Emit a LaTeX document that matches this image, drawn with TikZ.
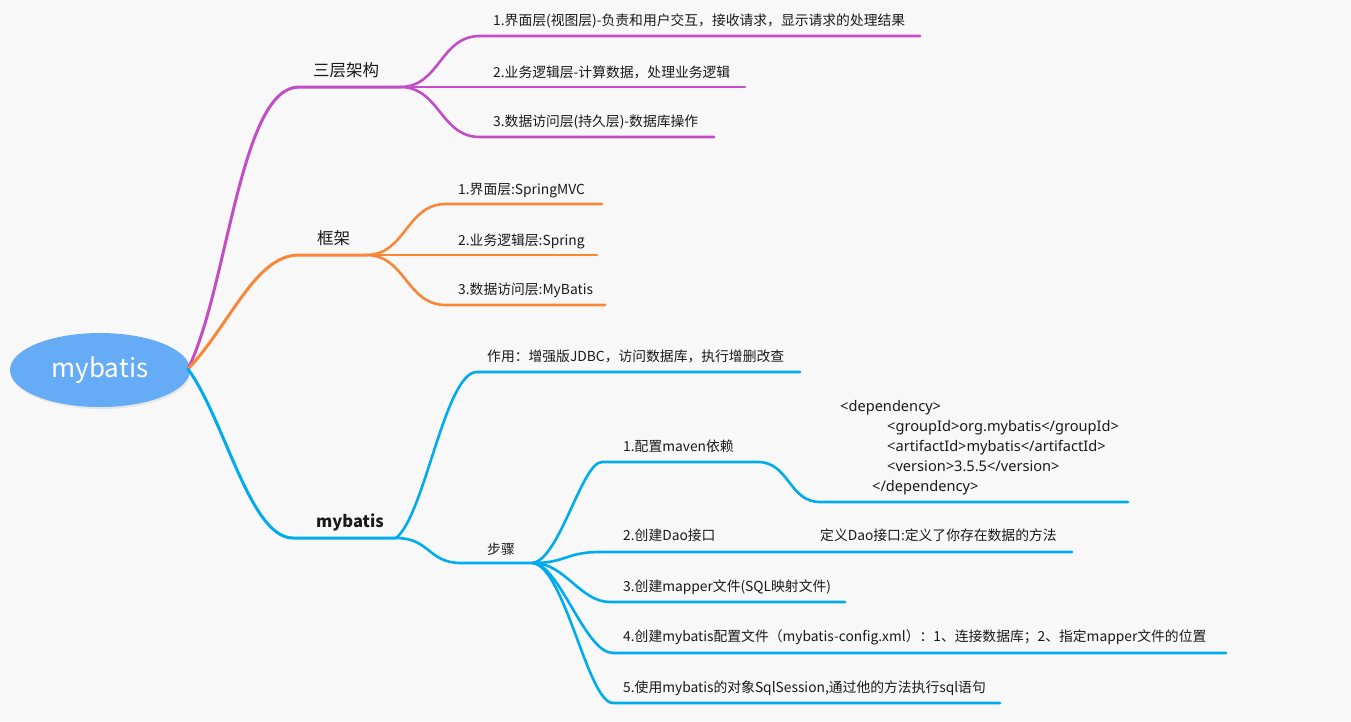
\documentclass[tikz,border=0pt]{standalone}
\usepackage{fontspec}
\usetikzlibrary{shapes.geometric}
\setmainfont{Noto Sans CJK SC}
\newfontfamily\latinf{Noto Sans}
\definecolor{bgc}{RGB}{248,248,248}
\definecolor{purp}{RGB}{194,78,199}
\definecolor{oran}{RGB}{248,135,55}
\definecolor{blu}{RGB}{0,172,238}
\definecolor{rootc}{RGB}{102,171,246}
\definecolor{txt}{RGB}{26,26,26}
\begin{document}
\begin{tikzpicture}[x=1pt,y=-1pt,
  lbl/.style={anchor=west, inner sep=0pt, text=txt, font=\fontsize{13.8}{16}\selectfont, text height=11pt, text depth=3pt},
  xmllbl/.style={lbl, font=\latinf\fontsize{14.6}{16}\selectfont},
  toplbl/.style={anchor=west, inner sep=0pt, text=txt, font=\fontsize{16.5}{19}\selectfont, text height=13pt, text depth=3.5pt},
  br/.style={line width=2.6pt, line cap=round},
  mainbr/.style={line width=3pt, line cap=round},
  pbr/.style={br, draw=purp},
  obr/.style={br, draw=oran},
  bbr/.style={br, draw=blu}]
\fill[bgc] (0,0) rectangle (1351,721);
\useasboundingbox (0,0) rectangle (1351,721);

% root
\fill[black!10] (101,372) ellipse [x radius=90pt, y radius=37pt];
\node[ellipse, fill=rootc, minimum width=180pt, minimum height=74pt, inner sep=0pt,
      text=white, font=\fontsize{26}{30}\selectfont] (root) at (100,370) {mybatis};
\coordinate (r0) at (188,369);

% ---------- purple: 三层架构
\node[toplbl] (t1) at (313,72) {三层架构};
\coordinate (p0) at (299,87);
\coordinate (ps) at (400,87);
\coordinate (pa1) at (480,36);  \coordinate (pa1e) at (920,36);
\coordinate (pa2e) at (745,87);
\coordinate (pa3) at (480,137); \coordinate (pa3e) at (714,137);
\draw[mainbr, purp] (r0) .. controls (228,288) and (240,87) .. (p0) -- (ps);
\draw[pbr] (ps) .. controls (440,87) and (440,36) .. (pa1) -- (pa1e);
\draw[pbr] (ps) -- (pa2e);
\draw[pbr] (ps) .. controls (440,87) and (440,137) .. (pa3) -- (pa3e);
\node[lbl] (a1) at (493,21) {1.界面层(视图层)-负责和用户交互，接收请求，显示请求的处理结果};
\node[lbl] (a2) at (493,73) {2.业务逻辑层-计算数据，处理业务逻辑};
\node[lbl] (a3) at (493,122) {3.数据访问层(持久层)-数据库操作};

% ---------- orange: 框架
\node[toplbl] (t2) at (317,240) {框架};
\coordinate (o0) at (299,255);
\coordinate (os) at (366,255);
\coordinate (ob1) at (446,204); \coordinate (ob1e) at (602,204);
\coordinate (ob2e) at (597,255);
\coordinate (ob3) at (446,305); \coordinate (ob3e) at (605,305);
\draw[mainbr, oran] (r0) .. controls (230,325) and (255,255) .. (o0) -- (os);
\draw[obr] (os) .. controls (406,255) and (406,204) .. (ob1) -- (ob1e);
\draw[obr] (os) -- (ob2e);
\draw[obr] (os) .. controls (406,255) and (406,305) .. (ob3) -- (ob3e);
\node[lbl] (b1) at (458,190) {1.界面层:SpringMVC};
\node[lbl] (b2) at (458,241) {2.业务逻辑层:Spring};
\node[lbl] (b3) at (458,290) {3.数据访问层:MyBatis};

% ---------- blue: mybatis
\node[toplbl, font=\bfseries\fontsize{16.5}{19}\selectfont] (t3) at (316,523) {mybatis};
\coordinate (m0) at (293,538);
\coordinate (ms) at (396,538);
\draw[mainbr, blu] (r0) .. controls (225,420) and (250,538) .. (m0) -- (ms);
\coordinate (c1s) at (477,372); \coordinate (c1e) at (800,372);
\coordinate (c2s) at (461,563); \coordinate (c2e) at (533,563);
\draw[bbr] (ms) .. controls (425,515) and (445,372) .. (c1s) -- (c1e);
\draw[bbr] (ms) .. controls (430,538) and (428,563) .. (c2s) -- (c2e);
\node[lbl] (c1) at (487,357) {作用：增强版JDBC，访问数据库，执行增删改查};
\node[lbl] (c2) at (487,550) {步骤};

% steps
\coordinate (d1s) at (602,462); \coordinate (d1m) at (758,462);
\coordinate (d1n) at (820,502); \coordinate (d1e) at (1128,502);
\coordinate (d2s) at (600,552); \coordinate (d2e) at (1072,552);
\coordinate (d3s) at (610,602); \coordinate (d3e) at (845,602);
\coordinate (d4s) at (613,653); \coordinate (d4e) at (1226,653);
\coordinate (d5s) at (613,703); \coordinate (d5e) at (1000,703);
\draw[bbr] (c2e) .. controls (560,558) and (582,462) .. (d1s) -- (d1m)
           .. controls (789,462) and (789,502) .. (d1n) -- (d1e);
\draw[bbr] (c2e) .. controls (566,563) and (566,552) .. (d2s) -- (d2e);
\draw[bbr] (c2e) .. controls (565,563) and (580,602) .. (d3s) -- (d3e);
\draw[bbr] (c2e) .. controls (560,565) and (585,653) .. (d4s) -- (d4e);
\draw[bbr] (c2e) .. controls (565,568) and (588,703) .. (d5s) -- (d5e);

\node[lbl] (d1) at (623,447) {1.配置maven依赖};
\node[xmllbl] (x1) at (840,407) {<dependency>};
\node[xmllbl] (x2) at (887,427) {<groupId>org.mybatis</groupId>};
\node[xmllbl] (x3) at (887,447) {<artifactId>mybatis</artifactId>};
\node[xmllbl] (x4) at (887,467) {<version>3.5.5</version>};
\node[xmllbl] (x5) at (872,487) {</dependency>};
\node[lbl] (d2) at (623,536) {2.创建Dao接口};
\node[lbl] (d2b) at (820,536) {定义Dao接口:定义了你存在数据的方法};
\node[lbl] (d3) at (623,587) {3.创建mapper文件(SQL映射文件)};
\node[lbl] (d4) at (623,637) {4.创建mybatis配置文件（mybatis-config.xml）：1、连接数据库；2、指定mapper文件的位置};
\node[lbl] (d5) at (623,688) {5.使用mybatis的对象SqlSession,通过他的方法执行sql语句};
\end{tikzpicture}
\end{document}
